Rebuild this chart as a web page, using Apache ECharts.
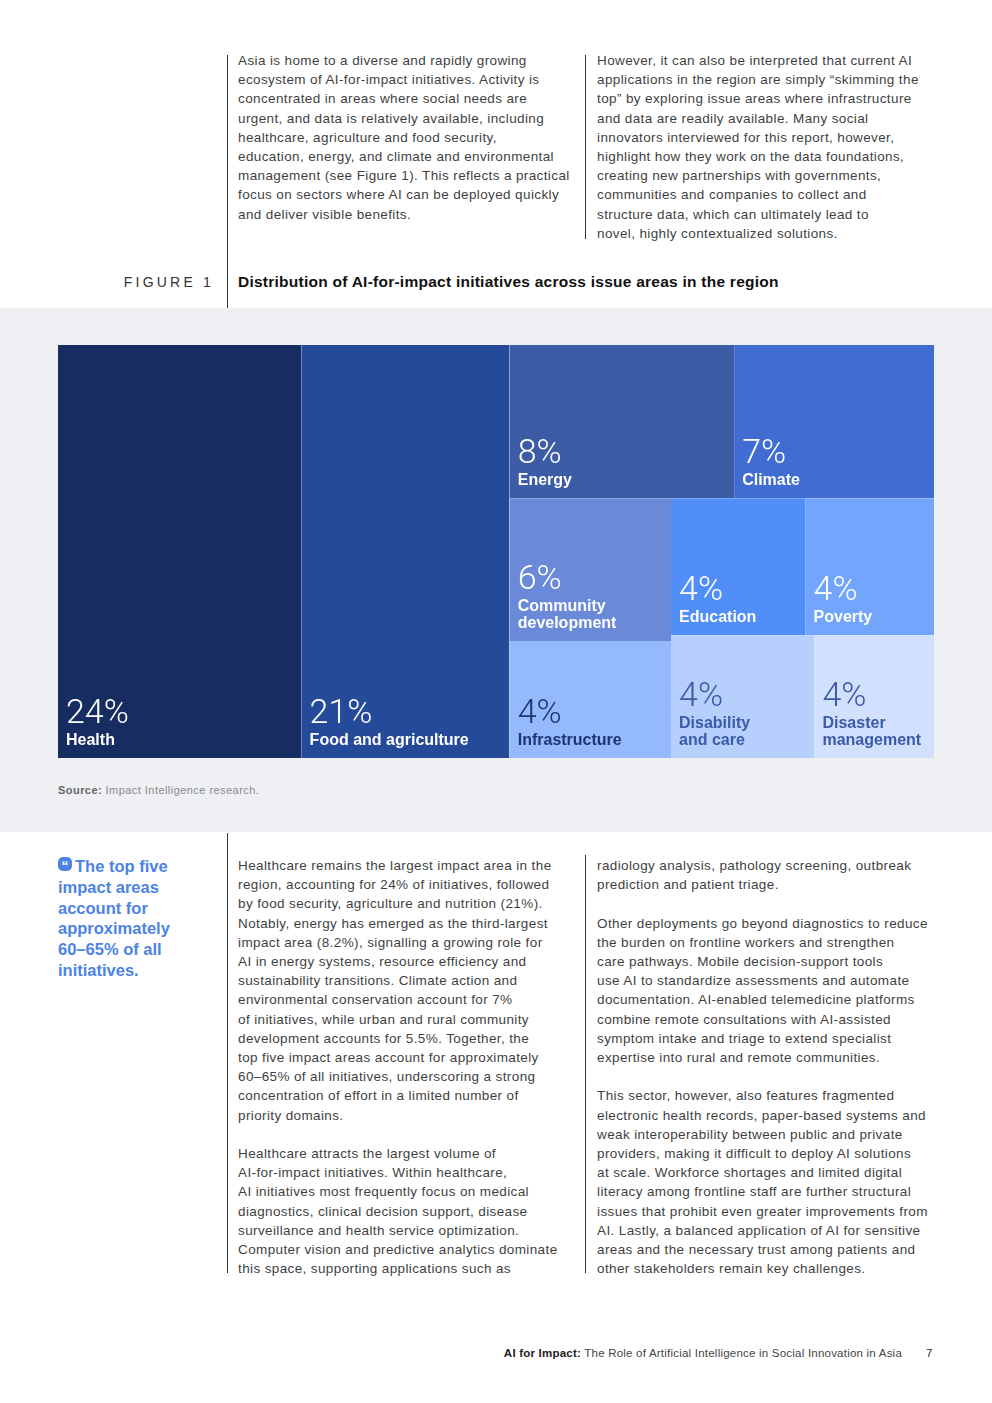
<!DOCTYPE html>
<html>
<head>
<meta charset="utf-8">
<script src="https://cdn.jsdelivr.net/npm/echarts@6/dist/echarts.min.js"></script>
<style>
  html, body { margin: 0; padding: 0; background: #fff; }
  body { width: 992px; height: 1403px; position: relative; overflow: hidden;
         font-family: 'Liberation Sans', Arial, sans-serif; color: #3f3f3f; }
  .txt { position: absolute; font-size: 13.5px; line-height: 19.2px; letter-spacing: 0.38px;
         white-space: nowrap; }
  .vline { position: absolute; width: 1px; background: #333; }
  #band { position: absolute; left: 0; top: 308px; width: 992px; height: 524px; background: #eff0f4; }
  #chart { position: absolute; left: 0; top: 308px; width: 992px; height: 470px; }
  .fig { position: absolute; top: 274px; font-size: 14px; letter-spacing: 3.2px; right: 778px; color: #333; }
  .title { position: absolute; left: 238px; top: 273px; font-size: 15.5px; font-weight: bold; color: #111; letter-spacing: 0.25px; }
  .src { position: absolute; left: 58px; top: 784px; font-size: 11px; color: #8a8a8a; letter-spacing: 0.45px; }
  .src b { color: #666; }
  .quote { position: absolute; left: 58px; top: 856px; font-size: 16.5px; line-height: 20.8px; font-weight: bold;
           color: #4c83e4; white-space: nowrap; }
  .qicon { display: inline-block; width: 14px; height: 14px; border-radius: 5px; background: #4c83e4; color: #fff;
           font-size: 14px; line-height: 19px; text-align: center; vertical-align: 1px; margin-right: 3px; overflow: hidden; }
  .foot { position: absolute; top: 1347px; right: 90px; font-size: 11.5px; color: #444; letter-spacing: 0.22px; }
  .foot b { color: #222; }
  .pg { position: absolute; top: 1347px; left: 926px; font-size: 11.5px; color: #333; }
</style>
</head>
<body>
<div class="vline" style="left:227px;top:55px;height:253px"></div>
<div class="vline" style="left:585px;top:55px;height:184px"></div>
<div class="txt" style="left:238px;top:51px">Asia is home to a diverse and rapidly growing<br>ecosystem of AI-for-impact initiatives. Activity is<br>concentrated in areas where social needs are<br>urgent, and data is relatively available, including<br>healthcare, agriculture and food security,<br>education, energy, and climate and environmental<br>management (see Figure 1). This reflects a practical<br>focus on sectors where AI can be deployed quickly<br>and deliver visible benefits.</div>
<div class="txt" style="left:597px;top:51px">However, it can also be interpreted that current AI<br>applications in the region are simply “skimming the<br>top” by exploring issue areas where infrastructure<br>and data are readily available. Many social<br>innovators interviewed for this report, however,<br>highlight how they work on the data foundations,<br>creating new partnerships with governments,<br>communities and companies to collect and<br>structure data, which can ultimately lead to<br>novel, highly contextualized solutions.</div>
<div class="fig">FIGURE 1</div>
<div class="title">Distribution of AI-for-impact initiatives across issue areas in the region</div>

<div id="band"></div>
<div id="chart"></div>
<div class="src"><b>Source:</b> Impact Intelligence research.</div>

<div class="vline" style="left:227px;top:833px;height:440px"></div>
<div class="vline" style="left:585px;top:855px;height:418px"></div>
<div class="quote"><span class="qicon">“</span>The top five<br>impact areas<br>account for<br>approximately<br>60–65% of all<br>initiatives.</div>
<div class="txt" style="left:238px;top:856px">Healthcare remains the largest impact area in the<br>region, accounting for 24% of initiatives, followed<br>by food security, agriculture and nutrition (21%).<br>Notably, energy has emerged as the third-largest<br>impact area (8.2%), signalling a growing role for<br>AI in energy systems, resource efficiency and<br>sustainability transitions. Climate action and<br>environmental conservation account for 7%<br>of initiatives, while urban and rural community<br>development accounts for 5.5%. Together, the<br>top five impact areas account for approximately<br>60–65% of all initiatives, underscoring a strong<br>concentration of effort in a limited number of<br>priority domains.<br><br>Healthcare attracts the largest volume of<br>AI-for-impact initiatives. Within healthcare,<br>AI initiatives most frequently focus on medical<br>diagnostics, clinical decision support, disease<br>surveillance and health service optimization.<br>Computer vision and predictive analytics dominate<br>this space, supporting applications such as</div>
<div class="txt" style="left:597px;top:856px">radiology analysis, pathology screening, outbreak<br>prediction and patient triage.<br><br>Other deployments go beyond diagnostics to reduce<br>the burden on frontline workers and strengthen<br>care pathways. Mobile decision-support tools<br>use AI to standardize assessments and automate<br>documentation. AI-enabled telemedicine platforms<br>combine remote consultations with AI-assisted<br>symptom intake and triage to extend specialist<br>expertise into rural and remote communities.<br><br>This sector, however, also features fragmented<br>electronic health records, paper-based systems and<br>weak interoperability between public and private<br>providers, making it difficult to deploy AI solutions<br>at scale. Workforce shortages and limited digital<br>literacy among frontline staff are further structural<br>issues that prohibit even greater improvements from<br>AI. Lastly, a balanced application of AI for sensitive<br>areas and the necessary trust among patients and<br>other stakeholders remain key challenges.</div>

<div class="foot"><b>AI for Impact:</b> The Role of Artificial Intelligence in Social Innovation in Asia</div>
<div class="pg">7</div>

<script>
// issue areas, in the order they are placed in the treemap
const categories = ['Health', 'Food and agriculture', 'Energy', 'Climate',
  'Community\ndevelopment', 'Infrastructure', 'Education', 'Poverty',
  'Disability\nand care', 'Disaster\nmanagement'];
// share of initiatives (%), used for cell areas
const shares = [24, 20.5, 8.2, 7.3, 5.5, 4.5, 4.4, 4.2, 4.2, 3.5];
// rounded labels printed in the cells
const pctLabels = ['24%', '21%', '8%', '7%', '6%', '4%', '4%', '4%', '4%', '4%'];

const cellColors = ['#172c61', '#264a9a', '#3c5ca5', '#416dd3', '#6a8ad9',
  '#94b9fd', '#518ef8', '#73a5fc', '#b6cffc', '#d0e0fd'];
const textColors = ['#fff', '#fff', '#fff', '#fff', '#fff',
  '#1f356f', '#fff', '#fff', '#3b5aa8', '#3b5aa8'];

const PCT_LH = 36, NAME_LH = 17, PAD_BOTTOM = 9, PAD_LEFT = 8;

const leaves = {};
function leaf(i) {
  const item = {
    name: categories[i],
    value: shares[i],
    pct: pctLabels[i],
    itemStyle: { color: cellColors[i] },
    label: { color: textColors[i] },
  };
  leaves[categories[i]] = item;
  return item;
}
const group = (...children) => ({ children });

// nesting only steers the squarify cuts so the blocks sit like the printed figure
const treeData = [
  leaf(0),
  group(
    leaf(1),
    group(
      group(leaf(2), leaf(3)),
      group(
        group(leaf(4), leaf(5)),
        group(group(leaf(6), leaf(7)), group(leaf(8), leaf(9)))
      )
    )
  ),
];

const chart = echarts.init(document.getElementById('chart'), null, { renderer: 'canvas' });
chart.setOption({
  animation: false,
  series: [{
    type: 'treemap',
    left: 58, top: 37, width: 876, height: 413,
    sort: false,
    squareRatio: 1.25,
    roam: false,
    nodeClick: false,
    breadcrumb: { show: false },
    itemStyle: { borderWidth: 0, gapWidth: 0 },
    upperLabel: { show: false },
    label: {
      show: true,
      position: 'insideTopLeft',
      align: 'left',
      overflow: 'none',
      padding: [0, 0, PAD_BOTTOM, PAD_LEFT],
      formatter: (p) => '{pct|' + p.data.pct + '}\n{name|' + p.name + '}',
      rich: {
        pct: { fontFamily: 'Roboto', fontWeight: 300, fontSize: 34, lineHeight: PCT_LH, align: 'left' },
        name: { fontFamily: 'Liberation Sans', fontWeight: 'bold', fontSize: 16, lineHeight: NAME_LH, align: 'left' },
      },
    },
    emphasis: { disabled: true },
    data: treeData,
  }],
});

// treemap labels start at the top of a cell; push them to the bottom using the computed cell heights
const tree = chart.getModel().getSeriesByIndex(0).getData().tree;
tree.eachNode((node) => {
  const item = leaves[node.name];
  if (!item || (node.children && node.children.length)) return;
  const h = node.getLayout().height;
  const textH = PCT_LH + NAME_LH * node.name.split('\n').length;
  item.label.padding = [Math.max(h - textH - PAD_BOTTOM, 0), 0, PAD_BOTTOM, PAD_LEFT];
});
chart.setOption({ series: [{ data: treeData }] });
</script>
</body>
</html>
